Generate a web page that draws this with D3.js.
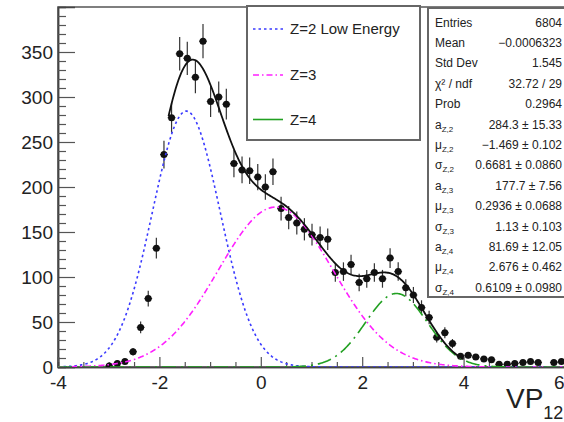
<!DOCTYPE html>
<html>
<head>
<meta charset="utf-8">
<script src="https://cdn.jsdelivr.net/npm/d3@7"></script>
<style>
  html, body { margin: 0; padding: 0; background: #fff; overflow: hidden; }
  svg { display: block; font-family: "Liberation Sans", Arial, Helvetica, sans-serif; }
</style>
</head>
<body>
<svg id="chart" width="564" height="422"></svg>
<script>
// Histogram bin centres and contents
const binCenters = [-2.99, -2.83, -2.68, -2.52, -2.37, -2.22, -2.06, -1.91, -1.76, -1.60,
  -1.45, -1.29, -1.14, -0.99, -0.83, -0.68, -0.53, -0.37, -0.22, -0.06,
  0.09, 0.24, 0.40, 0.55, 0.71, 0.86, 1.01, 1.17, 1.32, 1.47,
  1.63, 1.78, 1.94, 2.09, 2.24, 2.40, 2.55, 2.71, 2.86, 3.01,
  3.17, 3.32, 3.47, 3.63, 3.78, 3.94, 4.09, 4.24, 4.40, 4.55,
  4.70, 4.86, 5.01, 5.17, 5.32, 5.47, 5.78, 5.93];
const counts = [1, 4, 6, 17, 44, 76, 132, 236, 277, 348,
  343, 322, 362, 295, 300, 292, 226, 219, 218, 211,
  200, 217, 176, 166, 160, 153, 147, 144, 142, 105,
  106, 114, 94, 98, 105, 98, 121, 106, 88, 80,
  66, 55, 33, 38, 26, 12, 13, 11, 9, 8,
  3, 3, 4, 5, 6, 5, 5, 6];
const binWidth = 0.154;

// Axes
const xDomain = [-4, 6];
const yDomain = [0, 400];
const xMajorTicks = [-4, -2, 0, 2, 4, 6];
const xMinorTicks = [-3.5, -3, -2.5, -1.5, -1, -0.5, 0.5, 1, 1.5, 2.5, 3, 3.5, 4.5, 5, 5.5];
const yMajorTicks = [0, 50, 100, 150, 200, 250, 300, 350];
const yMinorTicks = [10, 20, 30, 40, 60, 70, 80, 90, 110, 120, 130, 140, 160, 170, 180, 190,
  210, 220, 230, 240, 260, 270, 280, 290, 310, 320, 330, 340, 360, 370, 380, 390];

// Fitted Gaussian components
const compNames = ["Z=2 Low Energy", "Z=3", "Z=4"];
const compAmp = [284.3, 177.7, 81.69];
const compMean = [-1.469, 0.2936, 2.676];
const compSigma = [0.6681, 1.13, 0.6109];
const compColors = ["#3a3aff", "#ff20ff", "#22a022"];
const compDash = ["2.5,3", "6,3,1.5,3", "14,5,2,5"];
const fitRange = [-1.82, 4.0];

// Statistics box
const statLabels = [["Entries", ""], ["Mean", ""], ["Std Dev", ""], ["\u03c7\u00b2 / ndf", ""], ["Prob", ""],
  ["a", "Z,2"], ["\u03bc", "Z,2"], ["\u03c3", "Z,2"],
  ["a", "Z,3"], ["\u03bc", "Z,3"], ["\u03c3", "Z,3"],
  ["a", "Z,4"], ["\u03bc", "Z,4"], ["\u03c3", "Z,4"]];
const statValues = ["6804", "\u22120.0006323", "1.545", "32.72 / 29", "0.2964",
  "284.3 \u00b1 15.33", "\u22121.469 \u00b1 0.102", "0.6681 \u00b1 0.0860",
  "177.7 \u00b1 7.56", "0.2936 \u00b1 0.0688", "1.13 \u00b1 0.103",
  "81.69 \u00b1 12.05", "2.676 \u00b1 0.462", "0.6109 \u00b1 0.0980"];

const svg = d3.select("#chart");
const frameL = 58, frameT = 7, frameB = 367, frameR = 565;

const x = d3.scaleLinear().domain(xDomain).range([frameL, frameR]);
const y = d3.scaleLinear().domain(yDomain).range([frameB, frameT]);

svg.append("defs").append("clipPath").attr("id", "frameClip")
  .append("rect").attr("x", frameL).attr("y", frameT).attr("width", frameR - frameL).attr("height", frameB - frameT);

// Frame
svg.append("rect").attr("x", frameL).attr("y", frameT).attr("width", frameR - frameL).attr("height", frameB - frameT)
  .attr("fill", "none").attr("stroke", "#555").attr("stroke-width", 1.5);

const tickFont = 19;
// Y axis, ticks pointing inward
svg.append("g").attr("transform", `translate(${frameL},0)`)
  .call(d3.axisLeft(y).tickValues(yMajorTicks).tickSize(-17).tickPadding(5).tickFormat(d => String(d)));
svg.append("g").attr("transform", `translate(${frameL},0)`)
  .call(d3.axisLeft(y).tickValues(yMinorTicks).tickSize(-8).tickFormat(""));
// X axis
const xAxisG = svg.append("g").attr("transform", `translate(0,${frameB})`)
  .call(d3.axisBottom(x).tickValues(xMajorTicks).tickSize(-10).tickPadding(9).tickFormat(d => String(d)));
svg.append("g").attr("transform", `translate(0,${frameB})`)
  .call(d3.axisBottom(x).tickValues(xMinorTicks).tickSize(-5).tickFormat(""));

svg.selectAll(".domain").attr("stroke", "#444").attr("stroke-width", 1.5);
svg.selectAll(".tick line").attr("stroke", "#555").attr("stroke-width", 1.2);
svg.selectAll(".tick text").attr("font-size", tickFont).attr("fill", "#222")
  .attr("font-family", "Liberation Sans, Arial, sans-serif");
// keep the last x label inside the canvas edge
xAxisG.selectAll(".tick text").filter(d => d === xDomain[1])
  .attr("text-anchor", "end").attr("x", -1);

// Axis title
const xTitle = svg.append("text").attr("x", 506).attr("y", 408).attr("font-size", 28).attr("fill", "#222");
xTitle.append("tspan").text("VP");
xTitle.append("tspan").attr("font-size", 18).attr("dy", 11).text("12");

const plot = svg.append("g").attr("clip-path", "url(#frameClip)");

// Data points with error bars
const pts = binCenters.map((bx, i) => ({ x: bx, c: counts[i] }));
const pg = plot.append("g");
pg.selectAll("line.ey").data(pts).join("line").attr("class", "ey")
  .attr("x1", d => x(d.x)).attr("x2", d => x(d.x))
  .attr("y1", d => y(d.c - Math.sqrt(d.c))).attr("y2", d => y(d.c + Math.sqrt(d.c)))
  .attr("stroke", "#333").attr("stroke-width", 1.2);
pg.selectAll("line.ex").data(pts).join("line").attr("class", "ex")
  .attr("x1", d => x(d.x - binWidth / 2)).attr("x2", d => x(d.x + binWidth / 2))
  .attr("y1", d => y(d.c)).attr("y2", d => y(d.c))
  .attr("stroke", "#333").attr("stroke-width", 1.2);
pg.selectAll("circle").data(pts).join("circle")
  .attr("cx", d => x(d.x)).attr("cy", d => y(d.c)).attr("r", 3.5).attr("fill", "#111");

// Component curves
const gauss = (v, i) => compAmp[i] * Math.exp(-0.5 * Math.pow((v - compMean[i]) / compSigma[i], 2));
const line = d3.line().x(d => x(d[0])).y(d => y(d[1]));
const grid = d3.range(0, 501).map(j => xDomain[0] + (xDomain[1] - xDomain[0]) * j / 500);
compNames.forEach((n, i) => {
  plot.append("path").datum(grid.map(v => [v, gauss(v, i)]))
    .attr("d", line).attr("fill", "none")
    .attr("stroke", compColors[i]).attr("stroke-width", 1.6)
    .attr("stroke-dasharray", compDash[i]);
});

// Total fit
const fitGrid = d3.range(0, 301).map(j => fitRange[0] + (fitRange[1] - fitRange[0]) * j / 300);
plot.append("path").datum(fitGrid.map(v => [v, gauss(v, 0) + gauss(v, 1) + gauss(v, 2)]))
  .attr("d", line).attr("fill", "none").attr("stroke", "#111").attr("stroke-width", 1.8);

// Legend
const lg = svg.append("g");
lg.append("rect").attr("x", 247).attr("y", 6).attr("width", 173).attr("height", 134)
  .attr("fill", "#fff").attr("stroke", "#666").attr("stroke-width", 2);
const legendRows = [29, 75, 119.5];
compNames.forEach((n, i) => {
  lg.append("line").attr("x1", 253).attr("x2", 283).attr("y1", legendRows[i]).attr("y2", legendRows[i])
    .attr("stroke", compColors[i]).attr("stroke-width", 1.6)
    .attr("stroke-dasharray", i === 2 ? null : compDash[i]);
  lg.append("text").attr("x", 290).attr("y", legendRows[i] + 5).attr("font-size", 15)
    .attr("fill", "#222").text(n);
});

// Statistics box
const sg = svg.append("g");
sg.append("rect").attr("x", 428).attr("y", 8).attr("width", 160).attr("height", 289)
  .attr("fill", "#fff").attr("stroke", "#666").attr("stroke-width", 2);
const rowH = 20.4, row0 = 22.4, valRight = 562;
statLabels.forEach((lab, i) => {
  const yy = row0 + i * rowH + 4.2;
  const t = sg.append("text").attr("x", 435).attr("y", yy).attr("font-size", 12).attr("fill", "#222");
  t.append("tspan").text(lab[0]);
  if (lab[1]) t.append("tspan").attr("font-size", 8).attr("dy", 3).text(lab[1]);
  sg.append("text").attr("x", valRight).attr("y", yy).attr("font-size", 12).attr("fill", "#222")
    .attr("text-anchor", "end").text(statValues[i]);
});
</script>
</body>
</html>
